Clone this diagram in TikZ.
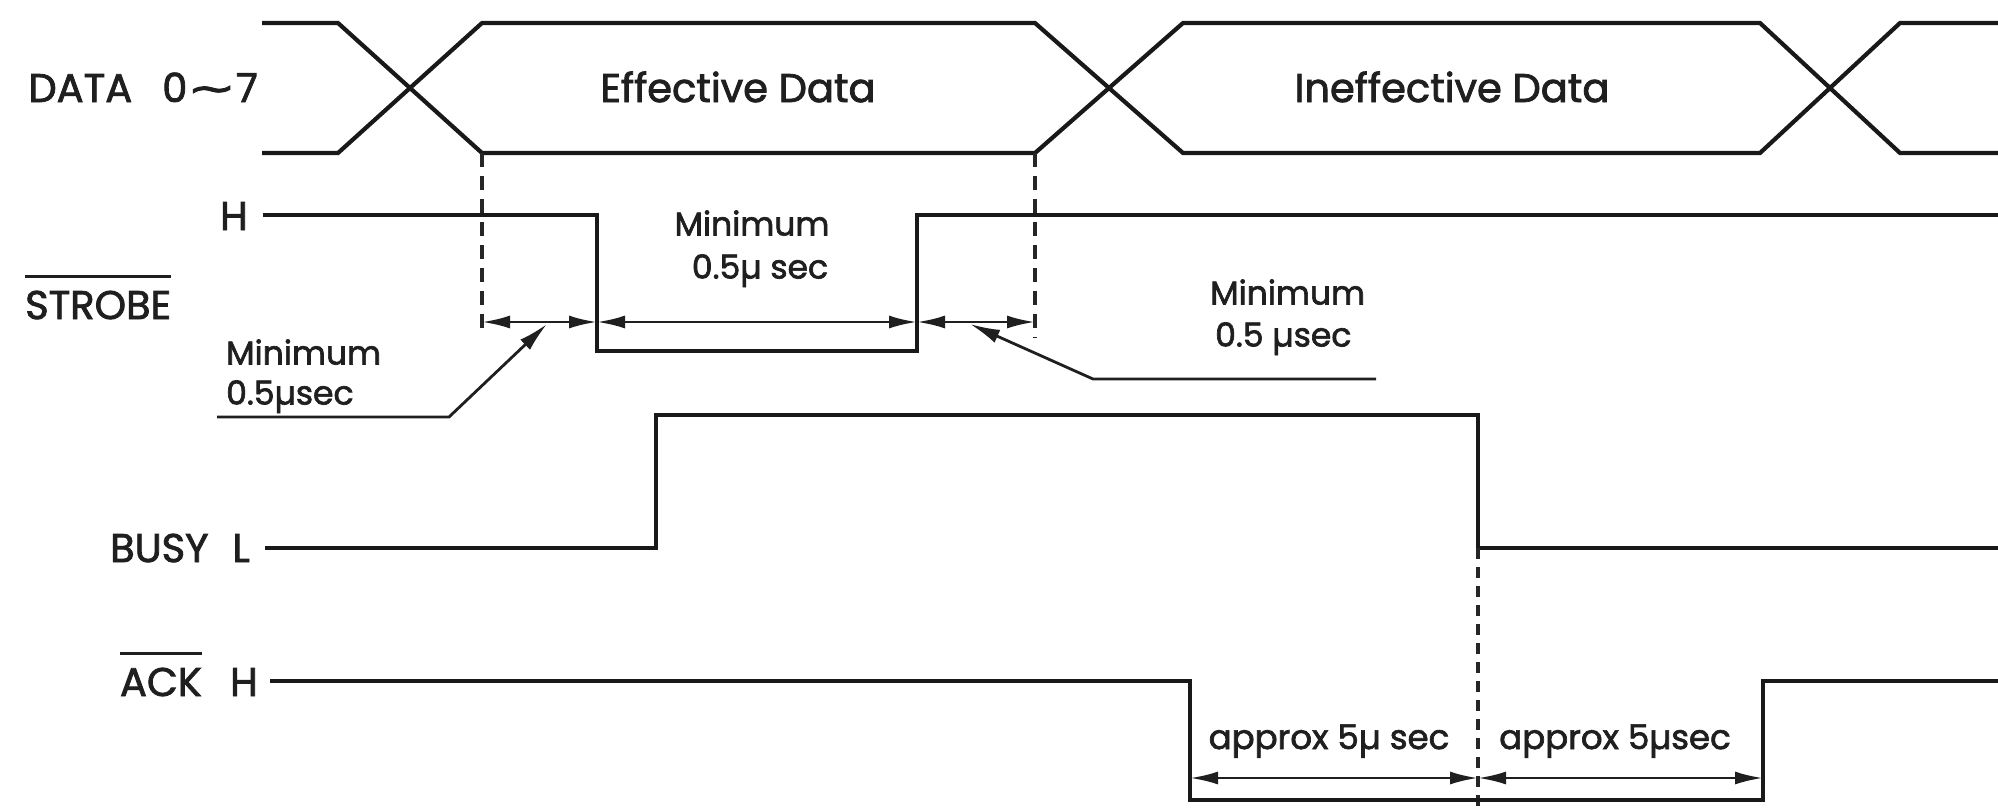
\documentclass[tikz,border=0pt]{standalone}
\usepackage{fontspec}
\setmainfont{Poppins}[FakeBold=2]
\newfontfamily\dejavu{DejaVu Sans}[FakeBold=2]
\usetikzlibrary{arrows.meta,calc}
\newcommand\mcr{µ}
\newcommand\swung{{\dejavu\scalebox{1.45}[1]{∼}}}
\begin{document}
\begin{tikzpicture}[x=1pt,y=-1pt,
  sig/.style={line width=4.2pt, line join=miter, line cap=butt, black!90},
  dsh/.style={line width=3.2pt, black!85, dash pattern=on 14pt off 9pt},
  dimline/.style={line width=2.8pt, black!88, {Latex[length=28pt,width=13pt]}-{Latex[length=28pt,width=13pt]}},
  leader/.style={line width=2.8pt, black!88, line join=miter, -{Latex[length=30pt,width=14pt]}},
  big/.style={font=\fontsize{40}{48}\selectfont, text=black!88, inner sep=0pt, text height=28pt, text depth=0pt},
  med/.style={font=\fontsize{33}{40}\selectfont, text=black!88, inner sep=0pt, text height=23pt, text depth=0pt},
  apx/.style={font=\fontsize{34}{40}\selectfont, text=black!88, inner sep=0pt, text height=24pt, text depth=0pt},
  ovl/.style={line width=3.2pt, black!88}]
\fill[white] (0,0) rectangle (1998,807);
\useasboundingbox (0,0) rectangle (1998,807);

% ---------- DATA bus ----------
\draw[sig] (262,23) -- (338,23) -- (482,153) -- (1035,153) -- (1183,23) -- (1760,23) -- (1900,153) -- (1998,153);
\draw[sig] (262,153) -- (338,153) -- (482,23) -- (1035,23) -- (1183,153) -- (1760,153) -- (1900,23) -- (1998,23);
\node[big, anchor=east] (datalbl) at (258,88) {DATA\hspace{0.75em}0\swung 7};
\node[big] (eff) at (738,88) {Effective Data};
\node[big] (ineff) at (1452,88) {Ineffective Data};

% ---------- STROBE ----------
\coordinate (sf) at (597,215);
\coordinate (sr) at (917,215);
\draw[sig] (263,215) -- (sf) -- (597,351) -- (917,351) -- (sr) -- (1998,215);
\node[big, anchor=east] (shl) at (248,216) {H};
\node[big, anchor=west] (stb) at (25,305) {STROBE};
\draw[ovl] ($(stb.north west)+(0,-14)$) -- ($(stb.north east)+(0,-14)$);

% dashed markers
\coordinate (d1t) at (482,153);
\coordinate (d1b) at (482,337);
\coordinate (d2t) at (1035,153);
\coordinate (d2b) at (1035,338);
\draw[dsh] (d1t) -- (d1b);
\draw[dsh] (d2t) -- (d2b);

% dimension arrows
\coordinate (a1) at (482,322);
\coordinate (a2) at (597,322);
\coordinate (a3) at (917,322);
\coordinate (a4) at (1035,322);
\draw[dimline] (a1) -- (a2);
\draw[dimline] (a2) -- (a3);
\draw[dimline] (a3) -- (a4);

% labels Minimum
\node[med] (mm1) at (752,224) {Minimum};
\node[med] (mm2) at (760,267) {0.5\mcr\ sec};
\node[med, anchor=west] (ml1) at (226,353) {Minimum};
\node[med, anchor=west] (ml2) at (226,393) {0.5\mcr sec};
\node[med, anchor=west] (mr1) at (1210,293) {Minimum};
\node[med, anchor=west] (mr2) at (1215,335) {0.5 \mcr sec};

% leaders
\coordinate (lla) at (217,417);
\coordinate (llb) at (449,417);
\coordinate (llt) at (547,324);
\draw[leader] (lla) -- (llb) -- (llt);
\coordinate (lra) at (1376,379);
\coordinate (lrb) at (1093,379);
\coordinate (lrt) at (970,324);
\draw[leader] (lra) -- (lrb) -- (lrt);

% ---------- BUSY ----------
\coordinate (bf) at (1478,548);
\draw[sig] (265,548) -- (656,548) -- (656,415) -- (1478,415) -- (bf) -- (1998,548);
\node[big, anchor=east] (busy) at (250,548) {BUSY\hspace{0.6em}L};
\coordinate (d3b) at (1478,807);
\draw[dsh, dash pattern=on 11pt off 8pt] (bf) -- (d3b);

% ---------- ACK ----------
\draw[sig] (270,681) -- (1190,681) -- (1190,800) -- (1763,800) -- (1763,681) -- (1998,681);
\node[big, anchor=east] (ack) at (202,682) {ACK};
\node[big, anchor=east] (ackh) at (258,682) {H};
\draw[ovl] ($(ack.north west)+(0,-14)$) -- ($(ack.north east)+(0,-14)$);

\coordinate (b1) at (1190,778);
\coordinate (b2) at (1478,778);
\coordinate (b3) at (1763,778);
\draw[dimline] (b1) -- (b2);
\draw[dimline] (b2) -- (b3);
\node[apx] (ap1) at (1329,737) {approx 5\mcr\ sec};
\node[apx] (ap2) at (1615,737) {approx 5\mcr sec};
\end{tikzpicture}
\end{document}
